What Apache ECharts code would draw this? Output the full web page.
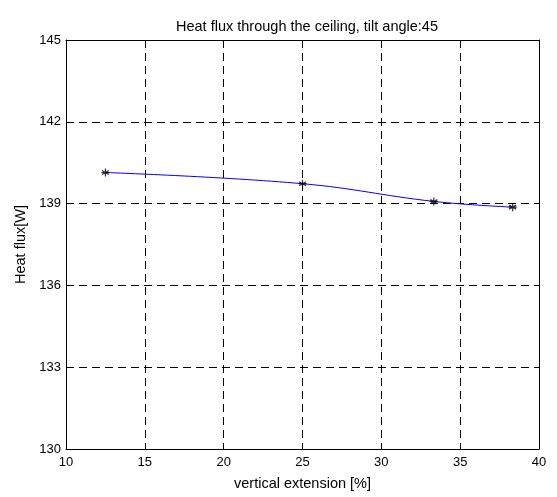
<!DOCTYPE html>
<html>
<head>
<meta charset="utf-8">
<script src="https://cdn.jsdelivr.net/npm/echarts@6/dist/echarts.min.js"></script>
<style>html,body{margin:0;padding:0;background:#fff}#c{width:557px;height:497px}</style>
</head>
<body>
<div id="c"></div>
<script>
const titleText = 'Heat flux through the ceiling, tilt angle:45';
const xName = 'vertical extension [%]';
const yName = 'Heat flux[W]';
const xValues = [12.5, 25, 33.33, 38.33];
const yValues = [140.14, 139.73, 139.08, 138.87];
const xTicks = [10, 15, 20, 25, 30, 35, 40];
const yTicks = [130, 133, 136, 139, 142, 145];

const pts = xValues.map((x, i) => [x, yValues[i]]);
const font = 'Liberation Sans, Arial, sans-serif';
const chart = echarts.init(document.getElementById('c'), null, {renderer: 'canvas'});
const dashed = {show: true, lineStyle: {color: '#000', type: [8, 5], width: 1}};
const baseX = {
  type: 'value', min: xTicks[0], max: xTicks[xTicks.length - 1], interval: 5,
  axisLine: {show: true, onZero: false, lineStyle: {color: '#000', width: 1}},
  axisTick: {show: true, inside: true, length: 5, lineStyle: {color: '#000'}},
  splitLine: {show: false}
};
const baseY = {
  type: 'value', min: yTicks[0], max: yTicks[yTicks.length - 1], interval: 3,
  axisLine: {show: true, onZero: false, lineStyle: {color: '#000', width: 1}},
  axisTick: {show: true, inside: true, length: 5, lineStyle: {color: '#000'}},
  splitLine: {show: false}
};
const star = 'path://M0,-1L0,1M-0.87,-0.5L0.87,0.5M-0.87,0.5L0.87,-0.5M-1,0L1,0';
chart.setOption({
  animation: false,
  backgroundColor: '#fff',
  title: {text: titleText, left: 302, textAlign: 'center', top: 14,
    textStyle: {fontFamily: font, fontSize: 14.5, fontWeight: 'normal', color: '#000'}},
  grid: {left: 66, right: 18, top: 40, bottom: 48},
  xAxis: [
    Object.assign({}, baseX, {
      position: 'bottom',
      splitLine: dashed,
      axisLabel: {color: '#000', fontFamily: font, fontSize: 13, margin: 7},
      name: xName, nameLocation: 'middle', nameGap: 27,
      nameTextStyle: {color: '#000', fontFamily: font, fontSize: 14.5}
    }),
    Object.assign({}, baseX, {position: 'top', axisLabel: {show: false}})
  ],
  yAxis: [
    Object.assign({}, baseY, {
      position: 'left',
      splitLine: dashed,
      axisLabel: {color: '#000', fontFamily: font, fontSize: 13, margin: 5},
      name: yName, nameLocation: 'middle', nameGap: 35,
      nameTextStyle: {color: '#000', fontFamily: font, fontSize: 14.5}
    }),
    Object.assign({}, baseY, {position: 'right', axisLabel: {show: false}})
  ],
  series: [
    {type: 'line', data: pts, smooth: 0.4, showSymbol: false, lineStyle: {color: '#0000ff', width: 1}, z: 3},
    {type: 'scatter', data: pts, symbol: star, symbolSize: 8,
     itemStyle: {color: 'rgba(0,0,0,0)', borderColor: '#000', borderWidth: 1.2}, z: 4}
  ]
});
</script>
</body>
</html>
